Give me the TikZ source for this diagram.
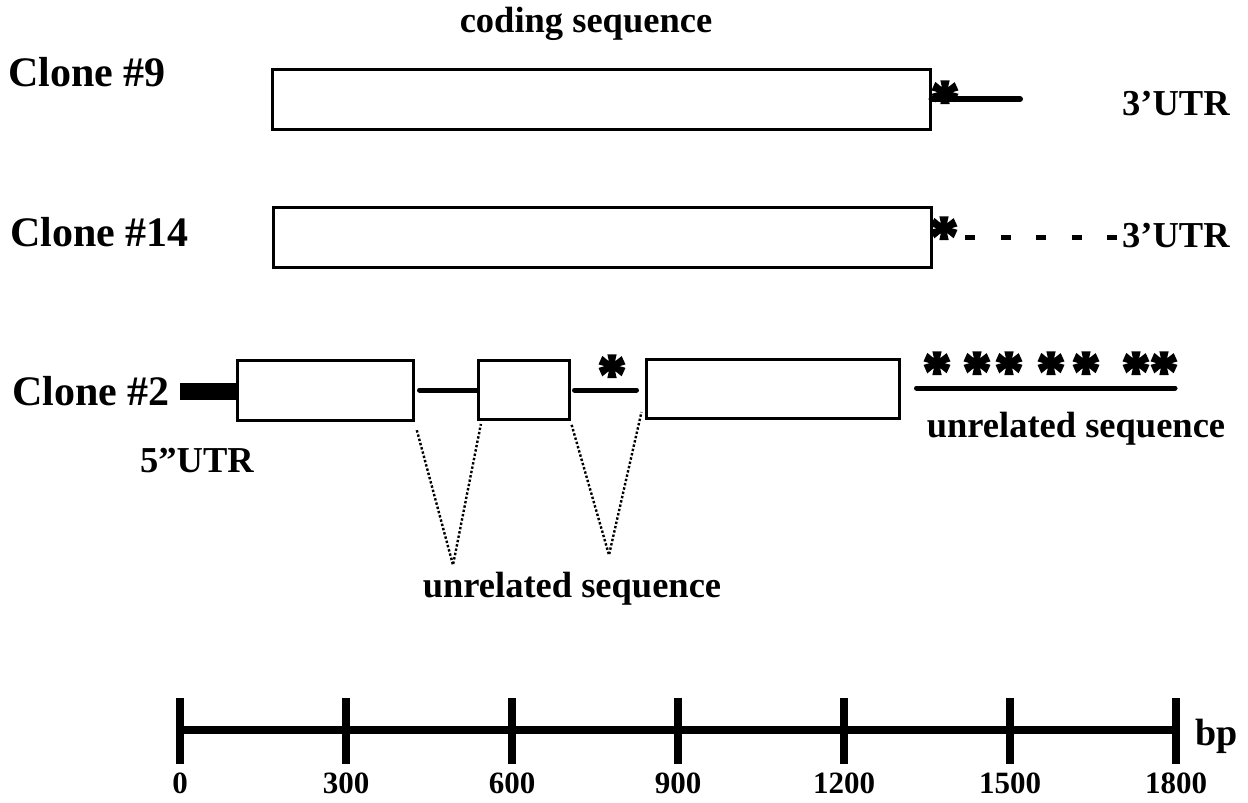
\documentclass[tikz,border=0pt]{standalone}
\usepackage{fontspec}
\setmainfont{Liberation Serif}
\newfontfamily\markfont[FakeBold=4]{Liberation Serif Bold}

\begin{document}
\begin{tikzpicture}[x=1pt,y=-1pt,
    exon/.style ={rectangle, draw, line width=3pt, fill=white, inner sep=0pt},
    intron/.style ={line width=5pt, line cap=round},
    utrbar/.style ={line width=17pt},
    utrdash/.style ={line width=5pt, dash pattern=on 10pt off 25.5pt},
    gapline/.style ={line width=2.4pt, dotted},
    stopmark/.style ={inner sep=0pt, anchor=base, yshift=-27pt, font=\markfont\fontsize{57}{57}\selectfont},
    clonename/.style ={inner sep=0pt, anchor=base west, font=\bfseries\fontsize{42}{42}\selectfont},
    caption/.style ={inner sep=0pt, anchor=base, font=\bfseries\fontsize{36.5}{36.5}\selectfont},
    scalebar/.style ={line width=8pt},
    scalenum/.style ={inner sep=0pt, anchor=base, font=\bfseries\fontsize{31}{31}\selectfont}]
   \useasboundingbox (0,0) rectangle (1248,803);

   % clone #9
   \node[clonename] (N9) at (8,86) {Clone \#9};
   \node[caption] (CDS) at (586,32) {coding sequence};
   \node[exon, minimum width=658pt, minimum height=60pt] (C9) at (601,99) {};
   \coordinate (C9end) at (1020,99);
   \draw[intron, line width=6pt] (C9.east) -- (C9end);
   \node[stopmark] (S9) at (945,92) {*};
   \node[caption, anchor=base west] (U9) at (1122,115) {3’UTR};

   % clone #14
   \node[clonename] (N14) at (10,246) {Clone \#14};
   \node[exon, minimum width=658pt, minimum height=60pt] (C14) at (602,237) {};
   \node[stopmark] (S14) at (944,228) {*};
   \node[caption, anchor=base west] (U14) at (1122,247) {3’UTR};
   \coordinate (C14dash) at (965,237);
   \draw[utrdash, shorten >=5pt] (C14dash) -- (C14dash -| U14.west);

   % clone #2
   \node[clonename] (N2) at (12,405) {Clone \#2};
   \node[exon, minimum width=176pt, minimum height=60pt] (E1) at (325,390) {};
   \node[exon, minimum width=91pt, minimum height=59pt] (E2) at (523.5,390) {};
   \node[exon, minimum width=253pt, minimum height=59pt] (E3) at (772.5,389) {};
   \coordinate (U5) at (180,391);
   \draw[utrbar] (U5) -- (E1.west |- U5);
   \node[caption] (U5L) at (197,472) {5”UTR};
   \draw[intron, shorten <=5pt] (E1.east) -- (E2.west);
   \draw[intron, shorten <=4pt, shorten >=8pt] (E2.east) -- (E2.east -| E3.west);
   \node[stopmark] (S2) at (612,366) {*};
   \coordinate (T2) at (1175,388);
   \draw[intron] ([xshift=16pt]E3.east |- T2) -- (T2);
   \node[stopmark] (R1) at (937,363) {*};
   \node[stopmark] (R2) at (977,363) {*};
   \node[stopmark] (R3) at (1009,363) {*};
   \node[stopmark] (R4) at (1051,363) {*};
   \node[stopmark] (R5) at (1086,363) {*};
   \node[stopmark] (R6) at (1136,363) {*};
   \node[stopmark] (R7) at (1164,363) {*};
   \node[caption] (UN2) at (1076,437) {unrelated sequence};

   % inserted pieces
   \coordinate (V1) at (453,565);
   \coordinate (V2) at (609,555);
   \draw[gapline, shorten <=9pt, shorten >=3pt] (E1.south east) -- (V1) -- ([xshift=5pt]E2.south west);
   \draw[gapline, shorten <=4pt] (E2.south east) -- (V2) -- ([xshift=-3pt,yshift=8pt]E3.south west);
   \node[caption] (UN1) at (572,597) {unrelated sequence};

   % scale
   \coordinate (B0) at (180,730);
   \coordinate (B6) at (1176,730);
   \draw[scalebar] (B0) -- (B6);
   \draw[scalebar] (180,698) -- (180,764);
   \draw[scalebar] (346,698) -- (346,764);
   \draw[scalebar] (512,698) -- (512,764);
   \draw[scalebar] (678,698) -- (678,764);
   \draw[scalebar] (844,698) -- (844,764);
   \draw[scalebar] (1010,698) -- (1010,764);
   \draw[scalebar] (1176,698) -- (1176,764);
   \node[scalenum] (L0) at (180,793) {0};
   \node[scalenum] (L1) at (346,793) {300};
   \node[scalenum] (L2) at (512,793) {600};
   \node[scalenum] (L3) at (678,793) {900};
   \node[scalenum] (L4) at (844,793) {1200};
   \node[scalenum] (L5) at (1010,793) {1500};
   \node[scalenum] (L6) at (1176,793) {1800};
   \node[caption, anchor=base west, font=\bfseries\fontsize{38}{38}\selectfont] (BP) at (1195,745) {bp};
 \end{tikzpicture}
\end{document}
